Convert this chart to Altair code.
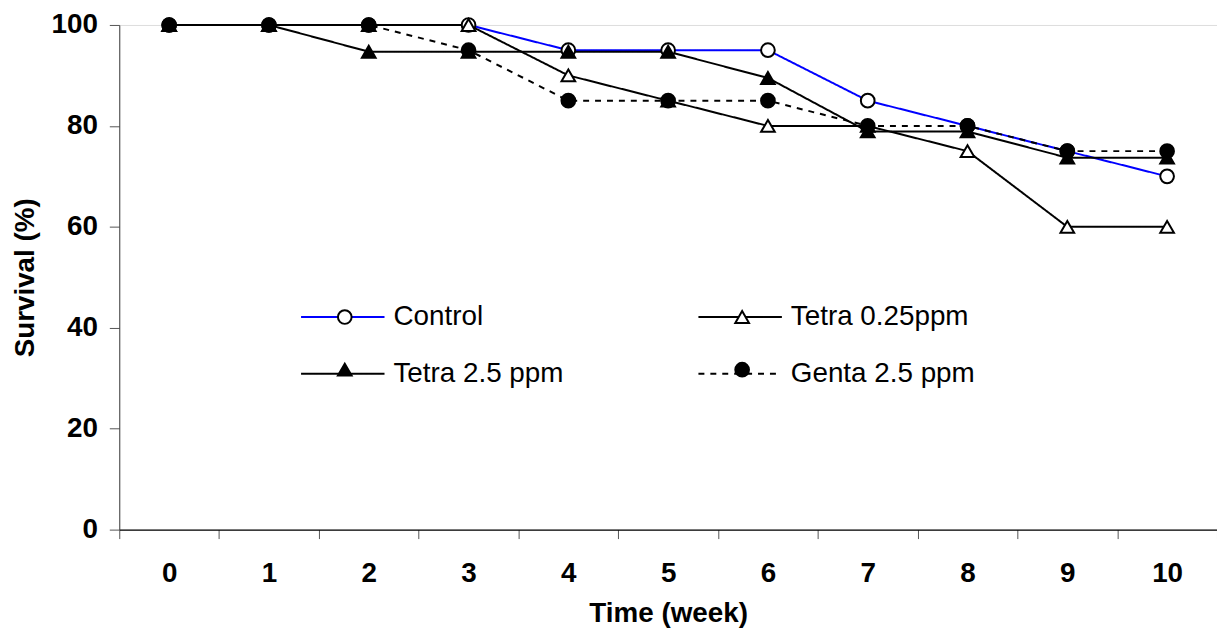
import altair as alt
import pandas as pd

# ---- data ----
weeks = [0, 1, 2, 3, 4, 5, 6, 7, 8, 9, 10]
series_names = ["Control", "Tetra 0.25ppm", "Tetra 2.5 ppm", "Genta 2.5 ppm"]
control = [100, 100, 100, 100, 95, 95, 95, 85, 80, 75, 70]
tetra_025 = [100, 100, 100, 100, 90, 85, 80, 80, 75, 60, 60]
tetra_25 = [100, 100, 94.7, 94.7, 94.7, 94.7, 89.5, 78.9, 78.9, 73.7, 73.7]
genta_25 = [100, 100, 100, 95, 85, 85, 85, 80, 80, 75, 75]
y_ticks = [0, 20, 40, 60, 80, 100]

# ---- styles (scale ranges) ----
line_colors = ["#0000FF", "#000000", "#000000", "#000000"]
line_dashes = [[1, 0], [1, 0], [1, 0], [6, 6]]
marker_shapes = ["circle", "triangle-up", "triangle-up", "circle"]
marker_fills = ["#FFFFFF", "#FFFFFF", "#000000", "#000000"]
marker_strokes = ["#000000", "#000000", "#000000", "#000000"]

marker_names = ["marker " + n for n in series_names]

values_by_series = [control, tetra_025, tetra_25, genta_25]
rows = []
for name, mname, vals in zip(series_names, marker_names, values_by_series):
    for w, v in zip(weeks, vals):
        rows.append({"week": w, "value": v, "series": name, "marker": mname})
df = pd.DataFrame(rows)

FONT = "Liberation Sans"

x_tick_values = []
for w in weeks:
    x_tick_values.append(w - 0.5)
    x_tick_values.append(w)
x_tick_values.append(weeks[-1] + 0.5)

x_axis = alt.Axis(
    values=x_tick_values,
    labelExpr="datum.value == floor(datum.value) ? format(datum.value, 'd') : ''",
    tickOpacity={"condition": {"test": "datum.value != floor(datum.value)", "value": 1}, "value": 0},
    title="Time (week)",
    titleFont=FONT, titleFontSize=28, titleFontWeight="bold", titleColor="black",
    titlePadding=12,
    labelFont=FONT, labelFontSize=28, labelFontWeight="bold", labelColor="black",
    labelPadding=21, labelOverlap=False, labelFlush=False,
    tickSize=9, tickColor="#555555", tickWidth=1,
    domainColor="black", domainWidth=1.5, grid=False,
)
y_axis = alt.Axis(
    values=y_ticks,
    title="Survival (%)",
    titleFont=FONT, titleFontSize=28, titleFontWeight="bold", titleColor="black",
    titlePadding=12,
    labelFont=FONT, labelFontSize=28, labelFontWeight="bold", labelColor="black",
    labelPadding=12,
    tickSize=10, tickColor="#555555", tickWidth=1,
    domainColor="#404040", domainWidth=1, grid=False,
)

x_enc = alt.X("week:Q", scale=alt.Scale(domain=[-0.5, 10.5], nice=False, zero=False), axis=x_axis)
y_enc = alt.Y("value:Q", scale=alt.Scale(domain=[0, 100], nice=False), axis=y_axis)

legend_lines = alt.Legend(
    title=None, orient="none", legendX=182, legendY=251, columns=2, direction="horizontal",
    symbolType="M-1,0H1", symbolSize=7056, symbolStrokeWidth=2,
    labelFont=FONT, labelFontSize=28, labelColor="black", labelOffset=8, labelLimit=400,
    columnPadding=131, rowPadding=-5, padding=0,
)
legend_markers = alt.Legend(
    title=None, orient="none", legendX=213, legendY=280, columns=2, direction="horizontal",
    symbolSize=190, symbolStrokeWidth=2,
    labelFont=FONT, labelFontSize=28, labelOffset=0, labelExpr="''",
    columnPadding=372, rowPadding=25, padding=0,
)

lines = alt.Chart(df).mark_line(strokeWidth=2).encode(
    x=x_enc,
    y=y_enc,
    color=alt.Color("series:N", scale=alt.Scale(domain=series_names, range=line_colors), legend=legend_lines),
    strokeDash=alt.StrokeDash("series:N", scale=alt.Scale(domain=series_names, range=line_dashes), legend=legend_lines),
)

points = alt.Chart(df).mark_point(filled=True, size=190, strokeWidth=2, opacity=1).encode(
    x=x_enc,
    y=y_enc,
    shape=alt.Shape("marker:N", scale=alt.Scale(domain=marker_names, range=marker_shapes), legend=legend_markers),
    fill=alt.Fill("marker:N", scale=alt.Scale(domain=marker_names, range=marker_fills), legend=legend_markers),
    stroke=alt.Stroke("marker:N", scale=alt.Scale(domain=marker_names, range=marker_strokes), legend=legend_markers),
)

chart = alt.layer(lines, points).properties(
    width=1105,
    height=508,
    autosize=alt.AutoSizeParams(type="none"),
    padding={"left": 112, "top": 15, "right": 0, "bottom": 105},
).configure_view(stroke=None).configure(background="white")

chart.save("out.html", embed_options={"renderer": "svg", "actions": False})
